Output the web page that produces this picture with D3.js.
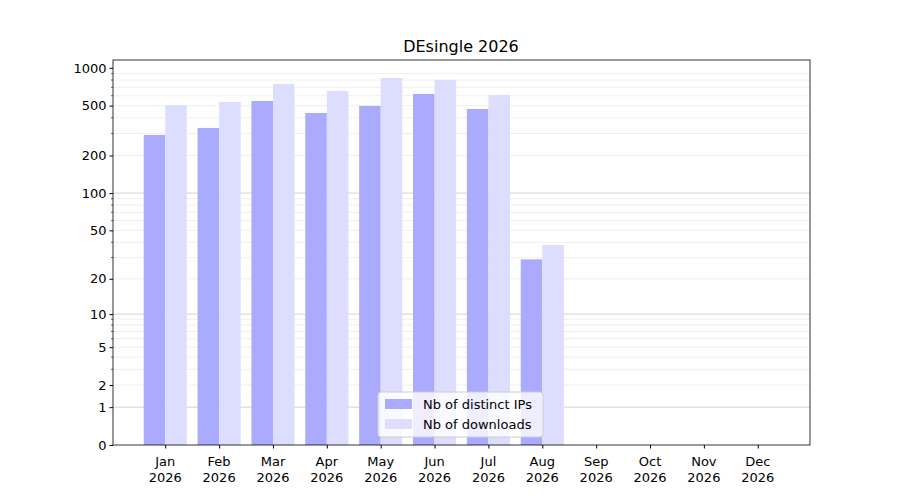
<!DOCTYPE html>
<html><head><meta charset="utf-8">
<script src="https://cdn.jsdelivr.net/npm/d3@7"></script>
<style>body{margin:0;background:#fff}text{font-family:"DejaVu Sans",sans-serif}</style>
</head><body><svg id="main_svg" width="900" height="500"></svg>
<script>
const months = ["Jan","Feb","Mar","Apr","May","Jun","Jul","Aug","Sep","Oct","Nov","Dec"];
const ips = [292,332,545,437,497,619,470,29,0,0,0,0];
const downloads = [506,535,744,654,831,801,608,38,0,0,0,0];
const yTicks = [0,1,2,5,10,20,50,100,200,500,1000];

let svg = d3.select("#main_svg");
let pLeft = 113, pRight = 810, pTop = 60, pBottom = 445;

let x = d3.scaleLinear().domain([-0.97, 11.97]).range([pLeft, pRight]);
let y = d3.scaleSymlog().constant(1).domain([0, 1155]).range([pBottom, pTop]);

// grid lines
let minor = [];
[1,10,100].forEach(d => { for (let k = 2; k <= 9; k++) minor.push(d*k); });
svg.selectAll(".minor").data(minor).enter().append("line")
   .attr("x1", pLeft).attr("x2", pRight)
   .attr("y1", d => y(d)).attr("y2", d => y(d))
   .attr("stroke", "#ebebeb").attr("stroke-width", 0.8);
svg.selectAll(".major").data([1,10,100]).enter().append("line")
   .attr("x1", pLeft).attr("x2", pRight)
   .attr("y1", d => y(d)).attr("y2", d => y(d))
   .attr("stroke", "#c8c8c8").attr("stroke-width", 0.8);

let w = 0.4;
svg.selectAll(".ip").data(ips).enter().append("rect")
   .attr("x", (d, i) => x(i - w))
   .attr("width", x(w) - x(0))
   .attr("y", d => y(d))
   .attr("height", d => y(0) - y(d))
   .attr("fill", "#aaaaff");
svg.selectAll(".dl").data(downloads).enter().append("rect")
   .attr("x", (d, i) => x(i))
   .attr("width", x(w) - x(0))
   .attr("y", d => y(d))
   .attr("height", d => y(0) - y(d))
   .attr("fill", "#ddddff");

svg.append("rect").attr("x", pLeft).attr("y", pTop)
   .attr("width", pRight - pLeft).attr("height", pBottom - pTop)
   .attr("fill", "none").attr("stroke", "#000").attr("stroke-width", 0.8);

// y axis
let yAxis = svg.append("g").attr("transform", "translate(" + pLeft + ",0)")
   .call(d3.axisLeft(y).tickValues(yTicks).tickFormat(d3.format("d")).tickSize(3.5).tickPadding(3));
yAxis.select(".domain").remove();
yAxis.selectAll("text").attr("font-size", 13).attr("fill", "#000");
svg.selectAll(".ymin").data(minor.filter(d => yTicks.indexOf(d) < 0)).enter().append("line")
   .attr("x1", pLeft - 2).attr("x2", pLeft)
   .attr("y1", d => y(d)).attr("y2", d => y(d))
   .attr("stroke", "#000").attr("stroke-width", 0.6);

// x axis
let xAxis = svg.append("g").attr("transform", "translate(0," + pBottom + ")")
   .call(d3.axisBottom(x).tickValues(d3.range(12)).tickFormat("").tickSize(3.5));
xAxis.select(".domain").remove();
months.forEach((m, i) => {
    let t = svg.append("text").attr("x", x(i)).attr("y", 466)
       .attr("text-anchor", "middle").attr("font-size", 13);
    t.append("tspan").attr("x", x(i)).text(m);
    t.append("tspan").attr("x", x(i)).attr("dy", 16).text("2026");
});

svg.append("text").attr("x", 461).attr("y", 52).attr("text-anchor", "middle")
   .attr("font-size", 16).text("DEsingle 2026");

// legend
let lg = svg.append("g").attr("transform", "translate(378,392)");
lg.append("rect").attr("width", 165).attr("height", 45).attr("rx", 3)
  .attr("fill", "#fff").attr("fill-opacity", 0.8).attr("stroke", "#ccc");
[["Nb of distinct IPs","#aaaaff"],["Nb of downloads","#ddddff"]].forEach((d, i) => {
    lg.append("rect").attr("x", 7).attr("y", 7 + i*20).attr("width", 27).attr("height", 10).attr("fill", d[1]);
    lg.append("text").attr("x", 45).attr("y", 17 + i*20).attr("font-size", 13).text(d[0]);
});
</script></body></html>
